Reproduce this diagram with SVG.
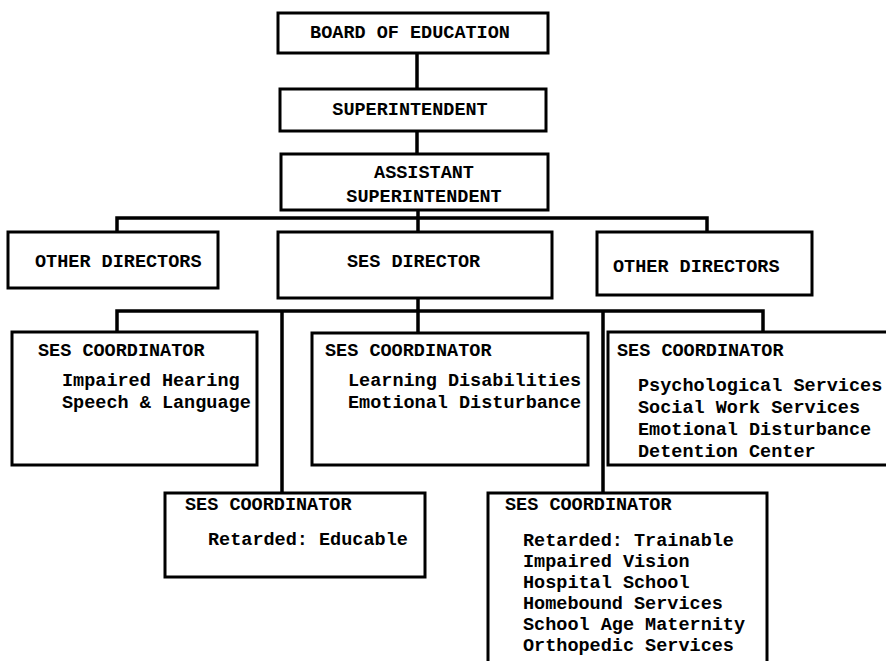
<svg xmlns="http://www.w3.org/2000/svg" width="886" height="661" viewBox="0 0 886 661">
<style>
.box{fill:#fff;stroke:#000;stroke-width:3}
.ln{fill:none;stroke:#000;stroke-width:3.5;stroke-linecap:square;stroke-linejoin:miter}
text{font-family:"Liberation Mono","DejaVu Sans Mono",monospace;font-weight:bold;font-size:18.5px;fill:#000}
.c{text-anchor:middle}
</style>
<rect width="886" height="661" fill="#fff"/>
<g id="connectors">
<path class="ln" d="M417 53V89M417 131V153"/>
<path class="ln" d="M418 210V232M117 232V218H707V232"/>
<path class="ln" d="M418 298V333M117 332V311H763V332M282 311V493M603 311V493"/>
</g>
<g id="board"><rect class="box" x="278" y="13" width="270" height="40"/><text class="c" x="410" y="38">BOARD OF EDUCATION</text></g>
<g id="superintendent"><rect class="box" x="280" y="89" width="266" height="42"/><text class="c" x="410" y="115">SUPERINTENDENT</text></g>
<g id="assistant"><rect class="box" x="281" y="154" width="267" height="56"/><text class="c" x="424" y="178">ASSISTANT</text><text class="c" x="424" y="202">SUPERINTENDENT</text></g>
<g id="other-left"><rect class="box" x="8" y="232" width="210" height="56"/><text x="35" y="267">OTHER DIRECTORS</text></g>
<g id="ses-director"><rect class="box" x="278" y="232" width="274" height="66"/><text x="347" y="267">SES DIRECTOR</text></g>
<g id="other-right"><rect class="box" x="597" y="232" width="215" height="63"/><text x="613" y="272">OTHER DIRECTORS</text></g>
<g id="coord-hearing"><rect class="box" x="12" y="332" width="245" height="133"/><text x="38" y="356">SES COORDINATOR</text><text x="62" y="386">Impaired Hearing</text><text x="62" y="408">Speech &amp; Language</text></g>
<g id="coord-learning"><rect class="box" x="312" y="333" width="276" height="132"/><text x="325" y="356">SES COORDINATOR</text><text x="348" y="386">Learning Disabilities</text><text x="348" y="408">Emotional Disturbance</text></g>
<g id="coord-psych"><rect class="box" x="608" y="332" width="300" height="133"/><text x="617" y="356">SES COORDINATOR</text><text x="638" y="391">Psychological Services</text><text x="638" y="413">Social Work Services</text><text x="638" y="435">Emotional Disturbance</text><text x="638" y="457">Detention Center</text></g>
<g id="coord-educable"><rect class="box" x="165" y="493" width="260" height="84"/><text x="185" y="510">SES COORDINATOR</text><text x="208" y="545">Retarded: Educable</text></g>
<g id="coord-trainable"><rect class="box" x="488" y="493" width="279" height="190"/><text x="505" y="510">SES COORDINATOR</text><text x="523" y="546">Retarded: Trainable</text><text x="523" y="567">Impaired Vision</text><text x="523" y="588">Hospital School</text><text x="523" y="609">Homebound Services</text><text x="523" y="630">School Age Maternity</text><text x="523" y="651">Orthopedic Services</text></g>
</svg>
